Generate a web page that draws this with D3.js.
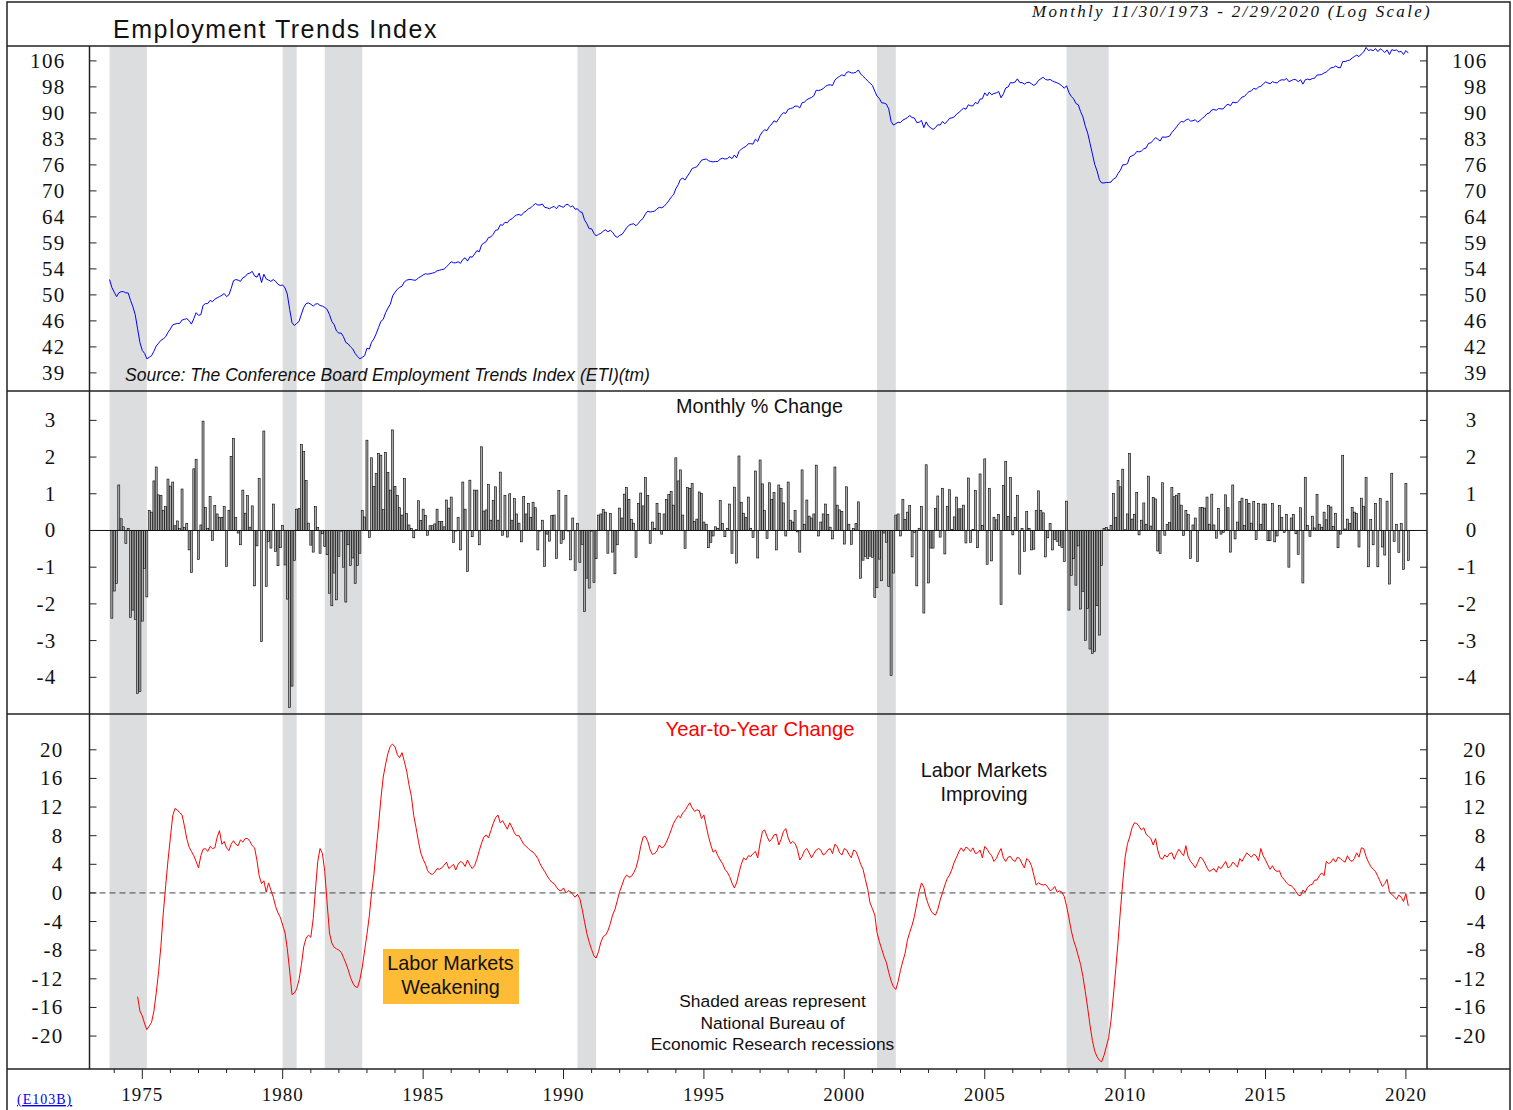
<!DOCTYPE html>
<html>
<head>
<meta charset="utf-8">
<script src="https://cdn.jsdelivr.net/npm/d3@7"></script>
<style>
body{margin:0;background:#fff}
svg{display:block}
.frame{stroke:#222;stroke-width:1.5;fill:none}
.serif{font-family:"Liberation Serif","Times New Roman",serif;fill:#111}
.sans{font-family:"Liberation Sans",Arial,sans-serif;fill:#111}
</style>
</head>
<body>
<svg id="chart"></svg>
<script>
// ETI level, monthly from Nov 1973
var etiStart = [1973, 10];
var etiValues = [
52.6,51.3,
50.5,49.8,50.4,50.6,50.6,50.4,50.4,49.2,48.2,47.0,44.9,43.0,
41.9,41.5,40.8,41.0,41.2,41.8,42.5,42.9,43.3,43.5,43.8,44.4,
44.9,45.5,45.6,45.7,45.7,46.2,46.3,46.4,46.1,45.6,46.4,47.3,
46.9,47.0,48.4,48.7,48.7,49.2,49.0,49.4,49.6,49.8,50.0,50.3,
49.8,50.1,51.1,52.4,52.6,52.5,52.3,52.9,53.1,53.6,53.7,54.0,
53.2,53.0,53.7,52.1,53.5,52.7,52.5,52.3,52.6,52.3,51.8,51.6,
51.7,51.2,50.2,47.8,45.8,45.4,45.7,46.0,47.1,48.1,48.7,48.8,
48.6,48.3,48.6,48.7,48.4,48.3,48.1,47.8,47.0,46.0,45.5,44.6,
44.3,44.3,43.8,43.0,42.8,42.4,42.1,41.5,41.1,40.8,41.0,41.2,
42.2,42.1,43.0,43.5,44.2,45.1,46.0,46.3,47.3,48.0,48.6,49.9,
50.5,51.0,51.3,51.5,52.2,52.5,52.6,52.6,52.5,52.5,52.9,53.1,
53.4,53.6,53.5,53.6,53.7,53.8,54.1,54.2,54.3,54.4,54.8,55.2,
55.7,55.5,55.5,55.7,55.4,56.1,56.4,55.8,56.6,56.5,57.1,57.7,
57.5,58.8,59.1,59.4,60.2,60.3,60.8,61.6,61.7,62.7,62.6,63.2,
63.1,63.7,63.9,64.4,64.7,64.8,64.6,65.2,65.5,66.0,66.2,66.7,
67.1,66.8,66.8,67.0,66.3,66.2,66.0,66.3,66.5,66.0,66.7,66.5,
66.3,66.9,66.9,66.4,66.6,65.9,66.0,65.4,65.2,63.7,62.9,61.9,
61.9,61.0,60.5,60.8,61.0,61.4,61.7,61.3,61.6,61.2,60.5,60.2,
60.6,60.8,61.4,62.1,62.6,62.8,62.9,62.5,63.0,63.6,64.0,64.9,
65.5,65.3,65.4,65.5,66.0,66.3,66.2,66.5,67.1,67.7,68.5,69.0,
70.4,71.3,72.5,72.8,72.4,73.3,74.1,75.1,75.3,75.5,76.3,77.1,
77.3,77.4,77.0,76.8,76.7,76.8,76.8,77.4,77.6,77.4,77.5,78.0,
77.5,78.4,77.7,79.3,79.9,80.3,80.6,81.3,81.3,81.2,82.5,81.9,
83.5,84.5,85.0,84.8,85.9,86.6,87.5,87.1,88.1,89.1,89.8,89.6,
90.8,91.0,91.2,91.7,91.7,91.2,92.7,92.9,93.6,94.0,94.3,94.8,
96.5,96.4,96.6,97.0,97.7,98.1,98.2,98.0,99.7,100.4,100.9,101.4,
101.0,102.2,102.4,102.0,102.0,102.2,103.0,101.7,100.9,100.2,99.4,98.7,
98.0,96.2,94.7,94.0,92.7,92.6,92.3,90.9,87.3,86.3,86.7,87.1,
87.0,87.7,88.0,88.4,89.0,88.4,88.3,87.0,87.1,87.6,85.6,87.2,
86.0,85.5,85.1,85.6,86.4,86.3,87.3,86.7,87.3,88.2,88.3,88.6,
89.4,89.9,90.5,91.1,90.8,92.1,91.8,91.8,92.8,92.4,93.8,93.9,
95.7,94.8,95.9,95.1,95.5,95.7,96.1,94.2,95.4,97.2,97.5,98.9,
98.8,99.1,100.1,98.9,98.9,98.4,98.9,99.0,98.5,98.0,98.5,99.6,
100.1,100.6,99.9,99.7,99.9,99.4,99.1,98.8,98.4,97.9,97.1,97.9,
95.8,94.6,93.9,92.5,92.1,90.1,88.6,86.0,84.1,81.4,78.7,76.1,
74.5,72.4,71.7,71.7,71.8,71.8,71.9,72.6,72.9,73.9,74.7,76.0,
76.0,76.3,77.9,78.2,78.5,79.3,79.2,79.4,80.0,80.2,81.4,81.5,
82.2,82.9,82.5,82.0,83.1,83.0,83.1,83.3,84.3,85.0,85.8,86.7,
87.3,87.2,87.7,88.0,87.4,87.5,87.8,87.1,87.6,88.2,88.7,89.5,
89.7,90.6,90.7,90.5,91.0,90.9,90.9,91.8,92.3,91.8,92.9,92.7,
92.9,93.6,94.4,94.6,95.4,96.1,96.3,97.1,96.8,97.5,97.7,98.4,
99.1,98.8,98.5,99.2,98.9,98.8,99.5,99.8,99.7,100.2,99.2,99.5,
99.9,99.8,99.2,99.8,98.4,99.8,100.0,99.8,100.2,100.3,101.3,101.4,
101.5,102.0,102.3,103.0,103.7,103.8,104.3,103.8,103.7,105.8,105.8,106.1,
106.3,107.0,107.5,108.0,107.5,108.4,109.1,110.7,109.6,109.9,109.5,110.3,
109.2,110.2,109.7,108.9,109.8,108.2,109.9,109.6,109.8,109.1,109.3,108.2,
109.6,108.7
];

// monthly % change, from Dec 1973
var changeStart = [1973, 11];
var changeValues = [
-2.39,-1.65,-1.45,1.24,0.32,0.1,-0.35,0.05,-2.37,-2.17,-2.42,-4.44,
-4.39,-2.47,-1.03,-1.81,0.55,0.5,1.35,1.73,0.97,0.95,0.55,0.65,
1.4,1.21,1.32,0.13,0.26,0.05,1.13,0.08,0.19,-0.53,-1.15,1.68,
1.94,-0.79,0.15,2.98,0.63,0.06,0.93,-0.27,0.68,0.45,0.36,0.36,
0.65,-0.98,0.55,2.02,2.51,0.35,-0.07,-0.39,1.1,0.47,0.95,0.09,
0.67,-1.51,-0.42,1.42,-3.03,2.71,-1.53,-0.3,-0.48,0.72,-0.57,-0.96,
-0.47,0.14,-0.94,-1.87,-4.82,-4.24,-0.82,0.58,0.6,2.34,2.15,1.36,
0.2,-0.4,-0.59,0.65,0.08,-0.62,-0.09,-0.44,-0.66,-1.71,-2.05,-1.16,
-1.89,-0.71,0,-1.0,-1.95,-0.39,-0.95,-0.75,-1.44,-0.95,-0.62,0.55,
0.37,2.46,-0.19,1.98,1.2,1.55,2.1,2.05,0.57,2.13,1.58,1.1,
2.74,1.2,0.96,0.62,0.42,1.42,0.46,0.15,0.05,-0.2,0.02,0.81,
0.27,0.58,0.41,-0.13,0.13,0.13,0.18,0.58,0.24,0.24,0.1,0.83,
0.61,0.91,-0.33,0,0.36,-0.53,1.32,0.58,-1.12,1.37,-0.17,1.1,
1.1,-0.39,2.28,0.53,0.56,1.25,0.28,0.82,1.19,0.28,1.59,-0.13,
0.96,-0.18,1.0,0.28,0.87,0.45,0.2,-0.31,0.93,0.45,0.74,0.36,
0.77,0.62,-0.53,0,0.28,-0.98,-0.1,-0.29,0.41,0.42,-0.76,1.09,
-0.35,-0.24,0.95,0,-0.8,0.34,-1.09,0.19,-0.87,-0.38,-2.21,-1.3,
-1.57,0,-1.42,-0.77,0.42,0.45,0.57,0.5,-0.62,0.46,-0.59,-1.18,
-0.39,0.61,0.34,0.99,1.17,0.85,0.3,0.2,-0.73,0.74,1.02,0.67,
1.44,0.95,-0.35,0.23,0.05,0.74,0.47,-0.1,0.45,0.85,0.98,1.06,
0.69,1.98,1.35,1.65,0.42,-0.49,1.17,1.15,1.28,0.24,0.31,1.05,
1.01,0.23,0.17,-0.47,-0.33,-0.15,0.1,0.05,0.82,0.19,-0.17,0.06,
0.72,-0.62,1.18,-0.89,2.03,0.77,0.47,0.35,0.91,0.06,-0.19,1.62,
-0.75,1.92,1.27,0.54,-0.22,1.3,0.85,1.03,-0.53,1.24,1.15,0.75,
-0.15,1.32,0.28,0.23,0.54,-0.04,-0.59,1.65,0.17,0.83,0.39,0.34,
0.45,1.78,-0.15,0.23,0.45,0.72,0.44,0.09,-0.23,1.73,0.69,0.56,
0.52,-0.37,1.19,0.17,-0.38,0.05,0.19,0.78,-1.3,-0.81,-0.71,-0.77,
-0.7,-0.73,-1.83,-1.56,-0.78,-1.37,-0.07,-0.32,-1.53,-3.95,-1.16,0.42,
0.45,-0.15,0.84,0.3,0.5,0.68,-0.72,-0.05,-1.51,0.06,0.65,-2.25,
1.79,-1.43,-0.48,-0.48,0.6,0.94,-0.18,1.15,-0.64,0.66,1.11,0.03,
0.37,0.91,0.59,0.59,0.69,-0.34,1.43,-0.33,0.03,1.09,-0.47,1.54,
0.14,1.95,-0.92,1.15,-0.83,0.36,0.29,0.44,-2.02,1.23,1.88,0.38,
1.44,-0.12,0.35,0.96,-1.19,0.05,-0.57,0.52,0.06,-0.53,-0.51,0.55,
1.08,0.55,0.48,-0.72,-0.2,0.19,-0.53,-0.25,-0.3,-0.41,-0.46,-0.85,
0.8,-2.17,-1.23,-0.77,-1.49,-0.42,-2.14,-1.66,-3.0,-2.12,-3.23,-3.35,
-3.3,-2.05,-2.85,-0.95,0.05,0.08,0.02,0.14,1.01,0.35,1.36,1.19,
1.67,0.02,0.45,2.1,0.31,0.44,1.04,-0.12,0.28,0.75,0.17,1.48,
0.12,0.9,0.86,-0.56,-0.63,1.3,-0.13,0.16,0.22,1.17,0.92,0.96,
1.01,0.69,-0.14,0.55,0.43,-0.76,0.15,0.34,-0.85,0.62,0.63,0.61,
0.91,0.17,0.99,0.15,-0.21,0.6,-0.1,-0.05,0.97,0.62,-0.59,1.24,
-0.23,0.23,0.79,0.88,0.14,0.85,0.74,0.2,0.79,-0.25,0.74,0.16,
0.72,0.72,-0.28,-0.28,0.73,-0.31,-0.15,0.68,0.35,-0.06,0.44,-1.0,
0.34,0.44,-0.09,-0.65,0.62,-1.43,1.45,0.14,-0.16,0.39,0.07,0.98,
0.17,0.09,0.5,0.29,0.68,0.64,0.11,0.47,-0.47,-0.1,2.05,0.04,
0.31,0.19,0.63,0.5,0.46,-0.45,0.88,0.66,1.45,-0.99,0.3,-0.39,
0.74,-0.99,0.87,-0.45,-0.67,0.8,-1.46,1.56,-0.3,0.17,-0.6,0.19,
-1.06,1.28,-0.82
];

// year-to-year % change, from Nov 1974
var yoyStart = [1974, 10];
var yoyValues = [
-14.5,-16.5,
-17.2,-18.3,-19.1,-18.6,-18.1,-16.5,-14.0,-11.0,-7.3,-2.8,1.0,4.5,
7.7,10.8,11.8,11.6,11.2,10.9,9.4,7.6,6.4,5.8,5.2,4.4,
3.5,5.2,6.1,6.2,5.8,6.5,6.2,6.3,7.8,8.7,6.8,7.2,
6.3,5.9,6.8,7.3,6.8,6.6,7.4,7.1,7.6,7.6,7.2,6.6,
6.3,4.5,2.4,1.3,1.7,0.1,1.4,0.4,-0.6,-1.9,-2.8,-3.4,
-4.5,-5.6,-7.8,-10.9,-14.2,-14.0,-13.4,-12.1,-10.0,-7.5,-6.3,-5.9,
-6.2,-3.6,0.3,4.4,6.2,5.5,3.0,-1.4,-5.6,-7.0,-7.6,-7.8,
-8.0,-8.3,-9.0,-9.8,-10.7,-11.8,-12.6,-13.1,-13.2,-12.1,-10.4,-8.1,
-5.8,-3.2,-0.1,2.5,6.0,9.5,13.1,16.2,18.0,19.5,20.5,20.8,
20.4,19.3,18.9,19.6,18.4,17.0,15.1,13.5,10.8,9.1,7.2,5.6,
4.7,4.0,3.1,2.7,2.6,2.9,3.4,3.3,3.5,3.9,4.3,3.4,
3.7,4.0,3.2,4.0,4.4,4.2,3.7,4.6,3.9,3.4,3.8,4.7,
5.9,7.0,7.8,8.1,7.7,8.7,9.7,10.5,10.9,9.8,10.1,9.5,
8.9,9.8,9.2,8.4,8.0,8.0,7.4,6.8,6.5,6.2,5.9,5.7,
5.3,4.8,4.1,3.5,3.0,2.4,1.9,1.5,1.3,0.8,0.4,0.3,
0.7,0.0,0.3,0.2,-0.2,-0.6,-0.2,-0.8,-2.3,-4.0,-5.7,-6.9,
-7.9,-8.8,-9.1,-8.2,-6.9,-6.1,-5.9,-5.3,-4.3,-3.1,-2.3,-1.1,
0.2,1.1,2.0,2.5,2.2,2.3,2.8,3.5,4.8,6.5,7.8,7.9,
7.2,6.0,5.4,5.5,5.9,6.7,6.3,6.5,7.1,7.9,8.8,9.7,
10.3,10.8,10.5,11.2,11.5,12.1,12.6,11.9,11.4,11.6,11.5,10.4,
10.9,9.3,7.9,6.7,5.7,6.0,5.2,4.6,4.1,3.3,2.9,2.3,
1.4,0.7,1.4,2.8,4.0,4.9,4.6,5.2,5.1,5.5,5.8,4.9,
7.0,8.6,8.8,7.9,7.2,7.5,8.1,8.2,6.7,7.5,8.6,9.0,
7.7,6.9,7.2,6.9,6.1,4.6,5.1,5.9,6.2,5.6,4.9,5.5,
6.0,6.2,6.0,5.3,5.5,6.0,6.2,5.5,6.8,6.5,5.6,5.3,
6.2,6.0,5.4,4.9,6.0,5.8,5.0,4.0,3.3,1.9,0.5,-1.4,
-2.2,-3.1,-5.5,-6.8,-7.8,-8.9,-9.7,-11.1,-12.3,-13.1,-13.5,-12.4,
-10.8,-9.5,-8.5,-6.6,-5.5,-4.5,-3.3,-1.5,0.2,1.4,0.8,-0.7,
-1.7,-2.5,-2.9,-3.1,-2.3,-1.0,0.0,1.1,2.0,2.5,3.3,4.3,
5.0,5.8,6.3,5.8,6.4,6.2,5.8,6.3,5.5,5.6,6.0,4.9,
6.5,6.1,5.6,5.2,4.4,4.8,5.6,6.2,4.9,4.4,5.0,5.1,
4.6,4.4,5.0,4.8,4.1,3.5,4.8,4.5,3.8,2.5,1.1,1.4,
1.2,1.1,1.2,0.8,0.3,0.5,0.9,0.1,0.3,0.1,-0.5,-1.8,
-3.5,-5.3,-6.6,-7.6,-8.8,-10.0,-11.7,-13.8,-16.1,-18.5,-20.6,-22.1,
-22.9,-23.4,-23.6,-22.7,-21.5,-20.2,-17.8,-14.4,-10.6,-6.8,-2.4,1.5,
5.0,6.9,7.8,9.1,9.8,9.7,9.3,8.8,9.1,8.2,7.9,7.6,
6.7,7.6,6.0,4.9,4.7,5.3,5.0,5.5,5.6,4.7,5.5,6.1,
5.6,5.2,6.6,5.0,4.4,4.0,3.5,4.2,5.0,4.8,4.2,3.5,
3.0,3.2,3.4,2.9,3.7,3.4,3.9,4.4,3.5,3.7,4.3,4.0,
3.6,4.8,4.4,5.0,5.6,5.3,5.0,5.4,5.2,4.5,6.2,5.2,
4.6,3.9,3.3,3.8,3.2,3.0,3.1,2.2,1.9,1.4,1.1,1.0,
0.7,0.2,-0.3,-0.4,0.4,0.1,0.8,1.1,1.2,1.8,1.8,2.4,
2.8,2.4,4.4,4.1,4.3,4.8,4.3,5.0,4.8,4.5,4.3,5.2,
4.6,4.4,4.8,5.6,5.0,6.3,6.2,5.1,4.3,3.7,3.3,3.0,
2.3,1.6,0.9,1.3,1.9,0.1,-0.2,-0.5,-0.9,-0.3,-0.6,-1.2,
-0.1,-1.8
];

// NBER recessions (start month, end month)
var recessions = [
  ["1973-11","1975-03"],["1980-01","1980-07"],["1981-07","1982-11"],
  ["1990-07","1991-03"],["2001-03","2001-11"],["2007-12","2009-06"]
];

var etiTickLabels = ["39","42","46","50","54","59","64","70","76","83","90","98","106"];
var changeTicks = [-4,-3,-2,-1,0,1,2,3];
var yoyTicks = [-20,-16,-12,-8,-4,0,4,8,12,16,20];
var yearTicks = [1975,1980,1985,1990,1995,2000,2005,2010,2015,2020];

var monthDate = function(start, i)
{
    return new Date(start[0], start[1] + i, 1);
}
var parseMonth = function(s)
{
    var p = s.split("-");
    return new Date(+p[0], +p[1] - 1, 1);
}

var initGraph = function()
{
    var screen = {width:1513, height:1110};
    var plot = {left:89.5, right:1427};
    var etiPanel = {top:46, bottom:391};
    var chgPanel = {top:391, bottom:714};
    var yoyPanel = {top:714, bottom:1069};

    var svg = d3.select("#chart")
        .attr("width", screen.width)
        .attr("height", screen.height);

    svg.append("defs").append("clipPath").attr("id","plotClip")
        .append("rect")
        .attr("x", plot.left).attr("y", etiPanel.top)
        .attr("width", plot.right - plot.left)
        .attr("height", yoyPanel.bottom - etiPanel.top);

    var xScale = d3.scaleTime()
        .domain([new Date(1975,0,1), new Date(2020,0,1)])
        .range([142.3, 1405.9]);
    var yEti = d3.scaleLog()
        .domain([36.8, 111.2])
        .range([etiPanel.bottom, etiPanel.top]);
    var yChg = d3.scaleLinear()
        .domain([-5, 3.8])
        .range([chgPanel.bottom, chgPanel.top]);
    var yYoy = d3.scaleLinear()
        .domain([-24.6, 25])
        .range([yoyPanel.bottom, yoyPanel.top]);

    var inner = svg.append("g").attr("clip-path","url(#plotClip)");

    //recession shading
    inner.append("g").selectAll("rect")
        .data(recessions)
        .enter()
        .append("rect")
        .attr("x", function(r){return xScale(parseMonth(r[0]));})
        .attr("width", function(r){return xScale(parseMonth(r[1])) - xScale(parseMonth(r[0]));})
        .attr("y", etiPanel.top)
        .attr("height", yoyPanel.bottom - etiPanel.top)
        .attr("fill", "#dcdddf");

    //ETI line
    var etiLine = d3.line()
        .x(function(v,i){return xScale(monthDate(etiStart,i));})
        .y(function(v){return yEti(v);});
    inner.append("path")
        .datum(etiValues)
        .attr("d", etiLine)
        .attr("fill","none")
        .attr("stroke","#0000ff")
        .attr("stroke-width",1);

    //monthly change bars
    var y0 = yChg(0);
    inner.append("g").selectAll("rect")
        .data(changeValues)
        .enter()
        .append("rect")
        .attr("x", function(v,i){return xScale(monthDate(changeStart,i)) - 1;})
        .attr("width", 2)
        .attr("y", function(v){return Math.min(yChg(v), y0);})
        .attr("height", function(v){return Math.max(Math.abs(yChg(v) - y0), 0.6);})
        .attr("fill", "#ababab")
        .attr("stroke", "#000")
        .attr("stroke-width", 0.6);
    inner.append("line")
        .attr("x1", plot.left).attr("x2", plot.right)
        .attr("y1", y0).attr("y2", y0)
        .attr("stroke", "#111").attr("stroke-width", 1);

    //yoy zero line and series
    inner.append("line")
        .attr("x1", plot.left).attr("x2", plot.right)
        .attr("y1", yYoy(0)).attr("y2", yYoy(0))
        .attr("stroke", "#444").attr("stroke-width", 1)
        .attr("stroke-dasharray", "6,4");
    var yoyLine = d3.line()
        .x(function(v,i){return xScale(monthDate(yoyStart,i));})
        .y(function(v){return yYoy(v);});
    inner.append("path")
        .datum(yoyValues)
        .attr("d", yoyLine)
        .attr("fill","none")
        .attr("stroke","#ff0000")
        .attr("stroke-width",1);

    //frame
    var frame = svg.append("g").attr("class","frame");
    frame.append("path").attr("d","M7,1112V2H1510V1112");
    [46, 391, 714, 1069].forEach(function(y){
        frame.append("line").attr("x1",7).attr("x2",1510).attr("y1",y).attr("y2",y);
    });
    [plot.left, plot.right].forEach(function(x){
        frame.append("line").attr("x1",x).attr("x2",x).attr("y1",46).attr("y2",1069);
    });

    //y axes, ticks inside on both sides
    var drawYAxis = function(scale, values, labels, leftX, rightX)
    {
        var g = svg.append("g");
        g.selectAll("line.l").data(values).enter().append("line")
            .attr("x1", plot.left).attr("x2", plot.left + 7)
            .attr("y1", function(v){return scale(v);})
            .attr("y2", function(v){return scale(v);})
            .attr("stroke","#222").attr("stroke-width",1);
        g.selectAll("line.r").data(values).enter().append("line")
            .attr("x1", plot.right - 7).attr("x2", plot.right)
            .attr("y1", function(v){return scale(v);})
            .attr("y2", function(v){return scale(v);})
            .attr("stroke","#222").attr("stroke-width",1);
        [leftX, rightX].forEach(function(ax){
            g.selectAll(null).data(values).enter().append("text")
                .attr("class","serif")
                .attr("x", ax)
                .attr("y", function(v){return scale(v) + 7;})
                .attr("text-anchor","end")
                .attr("font-size","21px")
                .attr("letter-spacing","1.3px")
                .text(function(v,i){return labels[i];});
        });
    }

    var etiTickValues = etiTickLabels.map(function(l,k){return 39 * Math.exp(k / 12);});
    drawYAxis(yEti, etiTickValues, etiTickLabels, 65.5, 1487.5);
    drawYAxis(yChg, changeTicks, changeTicks.map(String), 56.5, 1477.5);
    drawYAxis(yYoy, yoyTicks, yoyTicks.map(String), 63.5, 1486.5);

    //x axis below bottom panel
    var minorYears = d3.range(1974, 2021);
    var xg = svg.append("g");
    xg.selectAll("line").data(minorYears).enter().append("line")
        .attr("x1", function(y){return xScale(new Date(y,0,1));})
        .attr("x2", function(y){return xScale(new Date(y,0,1));})
        .attr("y1", 1069)
        .attr("y2", function(y){return y % 5 === 0 ? 1079 : 1073;})
        .attr("stroke","#222").attr("stroke-width",1);
    xg.selectAll("text").data(yearTicks).enter().append("text")
        .attr("class","serif")
        .attr("x", function(y){return xScale(new Date(y,0,1));})
        .attr("y", 1101)
        .attr("text-anchor","middle")
        .attr("font-size","19px")
        .attr("letter-spacing","1px")
        .text(function(y){return y;});

    //labels
    var labels = svg.append("g");
    labels.append("text").attr("class","sans")
        .attr("x",113).attr("y",38)
        .attr("font-size","25px").attr("letter-spacing","1.5px")
        .text("Employment Trends Index");
    labels.append("text").attr("class","serif")
        .attr("x",1432).attr("y",17).attr("text-anchor","end")
        .attr("font-size","17px").attr("font-style","italic").attr("letter-spacing","2.3px")
        .text("Monthly 11/30/1973 - 2/29/2020 (Log Scale)");
    labels.append("text").attr("class","sans")
        .attr("x",125).attr("y",381)
        .attr("font-size","17.5px").attr("font-style","italic")
        .text("Source: The Conference Board Employment Trends Index (ETI)(tm)");
    labels.append("text").attr("class","sans")
        .attr("x",759.5).attr("y",413).attr("text-anchor","middle")
        .attr("font-size","19.8px")
        .text("Monthly % Change");
    labels.append("text").attr("class","sans")
        .attr("x",760).attr("y",736).attr("text-anchor","middle")
        .attr("font-size","20.3px").style("fill","#ff0000")
        .text("Year-to-Year Change");
    labels.append("text").attr("class","sans")
        .attr("x",984).attr("y",777).attr("text-anchor","middle")
        .attr("font-size","19.8px")
        .text("Labor Markets");
    labels.append("text").attr("class","sans")
        .attr("x",984).attr("y",801).attr("text-anchor","middle")
        .attr("font-size","19.8px")
        .text("Improving");
    labels.append("rect")
        .attr("x",383).attr("y",949).attr("width",136).attr("height",55)
        .attr("fill","#fdbb36");
    labels.append("text").attr("class","sans")
        .attr("x",450.5).attr("y",970).attr("text-anchor","middle")
        .attr("font-size","19.8px")
        .text("Labor Markets");
    labels.append("text").attr("class","sans")
        .attr("x",450.5).attr("y",994).attr("text-anchor","middle")
        .attr("font-size","19.8px")
        .text("Weakening");
    ["Shaded areas represent","National Bureau of","Economic Research recessions"].forEach(function(t,i){
        labels.append("text").attr("class","sans")
            .attr("x",772.5).attr("y",1007 + i*21.5).attr("text-anchor","middle")
            .attr("font-size","17.4px")
            .text(t);
    });
    labels.append("text").attr("class","serif")
        .attr("x",17).attr("y",1104)
        .attr("font-size","14px").attr("letter-spacing","1px")
        .attr("text-decoration","underline")
        .style("fill","#0000ee")
        .text("(E103B)");
}

initGraph();
</script>
</body>
</html>
